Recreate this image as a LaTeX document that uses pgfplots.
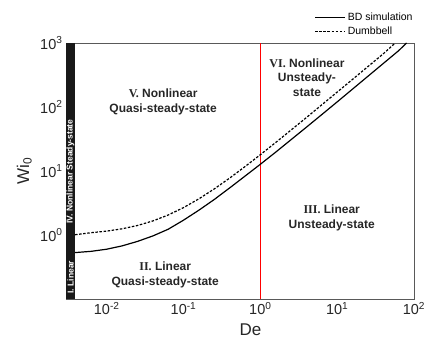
\documentclass[border=0pt]{standalone}
\usepackage{fontspec}
\setmainfont{Liberation Sans}
\newfontfamily\serifb{Liberation Serif}
\usepackage{pgfplots}
\pgfplotsset{compat=1.18}
\begin{document}
\begin{tikzpicture}[x=1pt,y=1pt]
\path[use as bounding box] (0,0) rectangle (427,344);
\begin{axis}[at={(66pt,45pt)}, anchor=south west, scale only axis,
  width=348pt, height=256pt,
  xmode=log, ymode=log, xmin=0.00295, xmax=100, ymin=0.1, ymax=1000,
  xtick={0.01,0.1,1,10,100},
  xticklabels={10\textsuperscript{-2},10\textsuperscript{-1},10\textsuperscript{0},10\textsuperscript{1},10\textsuperscript{2}},
  ytick={1,10,100,1000},
  yticklabels={10\textsuperscript{0},10\textsuperscript{1},10\textsuperscript{2},10\textsuperscript{3}},
  major tick length=0pt, minor tick length=0pt,
  axis line style={black!65, line width=0.9pt},
  tick label style={font=\fontsize{14.5}{16}\selectfont, text=black!85},
  xlabel={De}, ylabel={Wi\textsubscript{0}},
  label style={font=\fontsize{17}{19}\selectfont, text=black!85},
  xlabel style={at={(axis description cs:0.53,-0.121)}, anchor=center},
  ylabel style={at={(axis description cs:-0.12,0.5)}, anchor=center},
  legend cell align=left,
  legend image code/.code={\draw[#1] (0pt,0pt) -- (30pt,0pt);},
  legend style={draw=none, fill=none, at={(axis description cs:1.005,1.015)}, anchor=south east,
    font=\fontsize{10.5}{12}\selectfont, inner sep=1pt, row sep=1pt},
]
% black bar
\addplot[fill=black!90, draw=none, forget plot] coordinates {(0.00295,0.1) (0.00387,0.1) (0.00387,1000) (0.00295,1000)} -- cycle;
% red line
\addplot[red, line width=1pt, forget plot] coordinates {(1,0.1) (1,1000)};
% BD simulation
\addplot[black, line width=1.2pt] coordinates {
(0.00387,0.531) (0.00631,0.556) (0.01,0.600) (0.01585,0.676) (0.02512,0.794)
(0.03981,0.966) (0.0631,1.230) (0.1,1.706) (0.1585,2.443) (0.2512,3.589)
(0.3981,5.433) (0.631,8.318) (1,12.74) (1.585,19.72) (2.512,30.9) (3.981,48.4)
(6.31,76.2) (10,120.2) (15.85,190.5) (25.12,302) (39.81,478.6) (63.1,758.6) (80,1000)};
\addlegendentry{BD simulation}
% Dumbbell
\addplot[black, line width=1.2pt, dash pattern=on 2.5pt off 1.6pt] coordinates {
(0.00387,1.01) (0.00631,1.087) (0.01,1.15) (0.01585,1.249) (0.02512,1.407)
(0.03981,1.657) (0.0631,2.053) (0.1,2.68) (0.1585,3.675) (0.2512,5.25)
(0.3981,7.75) (0.631,11.71) (1,17.98) (1.585,27.9) (2.512,43.7) (3.981,68.5)
(6.31,108.3) (10,171) (15.85,270) (25.12,428) (39.81,678) (57,1000)};
\addlegendentry{Dumbbell}
% region labels
\node[align=center, font=\bfseries\fontsize{12}{15}\selectfont, text=black!85] at (axis cs:0.0543,122) {{\serifb V.} Nonlinear\\Quasi-steady-state};
\node[align=center, font=\bfseries\fontsize{12}{14.5}\selectfont, text=black!85] at (axis cs:4.04,289) {{\serifb VI.} Nonlinear\\Unsteady-\\state};
\node[align=center, font=\bfseries\fontsize{12}{15}\selectfont, text=black!85] at (axis cs:8.49,1.84) {{\serifb III.} Linear\\Unsteady-state};
\node[align=center, font=\bfseries\fontsize{12}{15}\selectfont, text=black!85] at (axis cs:0.0577,0.241) {{\serifb II.} Linear\\Quasi-steady-state};
\node[rotate=90, text=white, font=\bfseries\fontsize{8.5}{9}\selectfont, inner sep=0pt] at (axis cs:0.00338,0.22) {I. Linear};
\node[rotate=90, text=white, font=\bfseries\fontsize{8.5}{9}\selectfont, inner sep=0pt] at (axis cs:0.00338,9.8) {IV. Nonlinear Steady-state};
\end{axis}
\end{tikzpicture}
\end{document}
